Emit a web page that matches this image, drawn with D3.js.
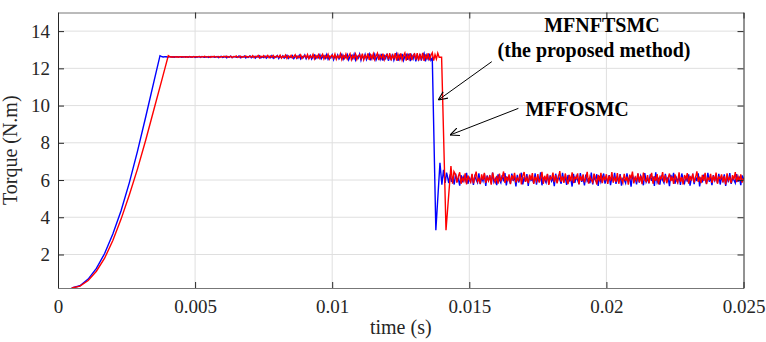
<!DOCTYPE html>
<html>
<head>
<meta charset="utf-8">
<script src="https://cdn.jsdelivr.net/npm/d3@7"></script>
<style>
  body { margin: 0; background: #fff; }
  text { font-family: "Liberation Serif", "Times New Roman", serif; }
</style>
</head>
<body>
<div id="chart"></div>
<script>
// tick values
const xTicks = [0, 0.005, 0.01, 0.015, 0.02, 0.025];
const xTickLabels = ["0", "0.005", "0.01", "0.015", "0.02", "0.025"];
const yTicks = [2, 4, 6, 8, 10, 12, 14];

// ripple segments are sampled every 0.05 ms
const sampleStep = 0.00005;

// MFNFTSMC (blue) - start-up ramp [t, torque]
const blueRise = [
  [0.0005, 0.2], [0.0008, 0.32], [0.0011, 0.68], [0.0014, 1.25], [0.0017, 2.05],
  [0.0020, 3.1], [0.0023, 4.35], [0.0026, 5.85], [0.0029, 7.55], [0.0032, 9.4],
  [0.0035, 11.3], [0.00372, 12.68]
];
// plateau ripple from 3.8 ms
const blueLoadStart = 0.0038;
const blueLoad = [
  12.62,12.61,12.63,12.62,12.60,12.62,12.63,12.61,12.62,12.60,12.63,12.62,12.61,12.63,12.60,12.62,12.61,12.63,12.62,12.60,
  12.63,12.60,12.62,12.64,12.59,12.62,12.61,12.63,12.59,12.64,12.61,12.60,12.63,12.62,12.58,12.63,12.61,12.64,12.60,12.62,
  12.64,12.58,12.62,12.65,12.59,12.61,12.64,12.57,12.63,12.60,12.65,12.58,12.62,12.64,12.59,12.61,12.66,12.57,12.63,12.60,
  12.66,12.56,12.63,12.59,12.67,12.57,12.62,12.65,12.55,12.64,12.60,12.67,12.56,12.63,12.58,12.66,12.55,12.62,12.65,12.57,
  12.68,12.54,12.63,12.59,12.69,12.53,12.65,12.57,12.67,12.55,12.61,12.70,12.54,12.64,12.58,12.68,12.52,12.63,12.66,12.55,
  12.70,12.51,12.64,12.58,12.72,12.52,12.66,12.56,12.69,12.50,12.63,12.71,12.53,12.67,12.57,12.73,12.51,12.62,12.68,12.54,
  12.74,12.49,12.65,12.56,12.73,12.47,12.68,12.55,12.72,12.50,12.61,12.75,12.48,12.66,12.57,12.74,12.46,12.64,12.70,12.52,
  12.76,12.45,12.67,12.55,12.77,12.44,12.69,12.52,12.75,12.47,12.63,12.78,12.43,12.68,12.54,12.76,12.45,12.62,12.72,12.49,
  12.78,12.42,12.68,12.53,12.79,12.41,12.71,12.50,12.77,12.44,12.65,12.80,12.40,12.69,12.52,12.78,12.43,12.64,12.74,12.46,
  12.79,12.39,12.70,12.51,12.80,12.37,12.72,12.48,12.78,12.42,12.66,12.81,12.38,12.70,12.50,12.79,12.44
];
// load step transient [t, torque]
const blueStep = [
  [0.01365, 12.55], [0.01378, 3.3], [0.01393, 6.93], [0.01400, 5.75], [0.01406, 6.55],
  [0.01412, 5.85], [0.01417, 6.4]
];
// steady ripple from 14.2 ms
const blueSteadyStart = 0.0142;
const blueSteady = [
  6.22,5.84,6.31,5.90,6.14,5.76,6.35,5.95,6.08,5.70,6.27,5.88,6.18,5.97,6.38,5.80,6.11,5.92,6.29,5.74,
  6.20,6.02,5.86,6.36,5.78,6.13,5.94,6.33,5.68,6.24,5.99,6.16,5.82,6.40,5.89,6.07,5.73,6.30,6.00,5.85,
  6.26,5.93,6.37,5.71,6.12,6.04,5.81,6.34,5.96,6.19,5.66,6.28,5.87,6.09,6.39,5.77,6.15,5.91,6.32,5.69,
  6.23,5.98,6.06,5.83,6.36,5.75,6.17,5.90,6.41,5.72,6.10,6.01,5.86,6.30,5.79,6.25,5.95,6.13,5.67,6.34,
  5.88,6.21,6.03,5.80,6.38,5.92,6.16,5.74,6.27,5.97,6.09,5.65,6.33,5.85,6.19,6.00,5.78,6.37,5.90,6.12,
  5.71,6.29,5.94,6.05,5.83,6.40,5.76,6.18,5.99,6.31,5.68,6.22,5.89,6.11,6.35,5.81,6.07,5.93,6.26,5.73,
  6.14,5.96,6.39,5.79,6.20,5.87,6.32,5.70,6.08,6.02,5.84,6.36,5.91,6.17,5.64,6.28,5.98,6.13,5.77,6.34,
  5.86,6.23,6.04,5.72,6.37,5.90,6.10,5.82,6.30,5.95,6.19,5.69,6.41,5.88,6.06,5.75,6.25,6.00,5.85,6.33,
  5.93,6.15,5.67,6.28,5.97,6.38,5.80,6.12,5.89,6.24,5.74,6.35,6.01,5.83,6.20,5.92,6.31,5.70,6.09,6.27,
  5.78,6.18,5.95,6.36,5.66,6.14,5.87,6.29,6.03,5.81,6.39,5.91,6.11,5.73,6.26,5.98,6.21,5.85,6.33,5.76,
  6.16,5.94,6.30,5.69,6.22,5.88,6.37,5.79,6.07,6.00,5.84,6.32,5.90,6.19,5.72,6.25,6.05
];

// MFFOSMC (red)
const redRise = [
  [0.0005, 0.2], [0.0008, 0.3], [0.0011, 0.6], [0.0014, 1.1], [0.0017, 1.8],
  [0.0020, 2.75], [0.0023, 3.9], [0.0026, 5.2], [0.0029, 6.6], [0.0032, 8.15],
  [0.0035, 9.8], [0.0038, 11.45], [0.004023, 12.68]
];
const redLoadStart = 0.0041;
const redLoad = [
  12.61,12.62,12.60,12.63,12.61,12.62,12.60,12.63,12.62,12.61,12.63,12.60,12.62,12.61,12.63,12.62,12.60,12.62,12.63,12.61,
  12.62,12.64,12.60,12.63,12.61,12.65,12.60,12.62,12.64,12.59,12.63,12.61,12.65,12.60,12.62,12.64,12.59,12.63,12.62,12.65,
  12.60,12.66,12.59,12.63,12.65,12.58,12.64,12.61,12.67,12.59,12.62,12.66,12.58,12.64,12.61,12.67,12.59,12.63,12.65,12.60,
  12.68,12.57,12.64,12.61,12.69,12.56,12.65,12.60,12.68,12.58,12.63,12.70,12.57,12.66,12.60,12.69,12.56,12.64,12.67,12.59,
  12.71,12.55,12.65,12.60,12.72,12.54,12.67,12.58,12.70,12.56,12.63,12.73,12.54,12.66,12.59,12.72,12.53,12.64,12.69,12.57,
  12.74,12.52,12.66,12.58,12.75,12.51,12.69,12.56,12.73,12.53,12.64,12.76,12.51,12.68,12.57,12.75,12.50,12.65,12.71,12.55,
  12.76,12.49,12.67,12.57,12.78,12.48,12.70,12.54,12.76,12.50,12.65,12.79,12.47,12.69,12.55,12.77,12.48,12.66,12.73,12.52,
  12.79,12.46,12.69,12.55,12.80,12.45,12.72,12.52,12.78,12.47,12.66,12.81,12.44,12.70,12.53,12.79,12.46,12.67,12.75,12.49,
  12.81,12.43,12.70,12.54,12.82,12.42,12.74,12.50,12.80,12.45,12.68,12.83,12.42,12.72,12.51,12.81,12.44,12.69,12.77,12.47,
  12.82,12.41,12.72,12.52,12.83,12.40,12.75,12.49,12.81,12.43,12.69,12.84,12.41,12.73,12.50,12.82,12.60
];
const redStep = [
  [0.01399, 12.6], [0.01415, 3.3], [0.01433, 6.75], [0.01439, 5.8], [0.01444, 6.45]
];
const redSteadyStart = 0.0145;
const redSteady = [
  6.28,5.86,6.20,6.42,5.80,6.12,5.94,6.36,5.77,6.24,6.02,5.89,6.33,5.82,6.17,6.45,5.92,6.08,5.79,6.30,
  6.01,6.38,5.85,6.15,5.96,6.27,5.75,6.40,6.06,5.88,6.22,5.81,6.34,5.98,6.13,6.46,5.84,6.19,5.93,6.31,
  5.78,6.25,6.04,6.39,5.87,6.10,5.97,6.35,5.76,6.21,6.43,5.90,6.14,5.83,6.29,6.00,6.37,5.79,6.18,5.95,
  6.32,5.86,6.09,6.44,5.80,6.23,5.99,6.33,5.74,6.16,6.05,6.40,5.89,6.26,5.82,6.12,6.48,5.91,6.20,5.85,
  6.35,6.03,5.78,6.28,5.94,6.41,5.84,6.15,6.07,6.36,5.77,6.22,5.96,6.30,5.88,6.11,6.44,5.81,6.19,6.00,
  5.87,6.34,6.08,5.76,6.27,5.93,6.39,5.83,6.16,6.02,6.31,5.79,6.24,5.97,6.42,5.86,6.13,5.90,6.37,5.80,
  6.21,6.04,5.85,6.33,5.95,6.18,5.75,6.29,6.09,6.45,5.82,6.14,5.98,6.36,5.88,6.23,5.78,6.40,6.01,5.92,
  6.26,5.84,6.12,6.38,5.80,6.20,5.96,6.32,5.77,6.17,6.06,6.43,5.89,6.25,5.83,6.10,6.35,5.94,6.19,5.79,
  6.30,6.00,5.86,6.41,5.91,6.15,5.76,6.27,6.05,6.37,5.81,6.22,5.97,6.34,5.87,6.13,6.47,5.90,6.18,5.84,
  6.28,5.95,6.39,5.78,6.11,6.03,6.33,5.85,6.24,5.93,6.40,5.80,6.16,6.07,6.30,5.88,6.21,5.76,6.36,5.98,
  6.14,5.83,6.26,6.02,6.42,5.89,6.19,5.94,6.31,5.86,6.10
];

// annotations [t, torque]
const labelTop = { text: "MFNFTSMC", at: [0.01984, 13.95] };
const labelTop2 = { text: "(the proposed method)", at: [0.01955, 12.62] };
const labelMid = { text: "MFFOSMC", at: [0.01893, 9.45] };
const arrows = [
  { from: [0.01582, 12.36], to: [0.01387, 10.3] },
  { from: [0.01679, 9.85], to: [0.0143, 8.42] }
];

const margin = { top: 12.5, right: 22.5, bottom: 54, left: 58 },
      width = 766 - margin.left - margin.right,
      height = 342 - margin.top - margin.bottom;

const svg = d3.select("#chart")
  .append("svg")
  .attr("width", 766)
  .attr("height", 342)
  .append("g")
  .attr("transform", `translate(${margin.left},${margin.top})`);

const x = d3.scaleLinear().domain([0, 0.025]).range([0, width]);
const y = d3.scaleLinear().domain([0.2, 15]).range([height, 0]);

// grid
svg.append("g")
  .selectAll("line")
  .data(xTicks.slice(1, -1))
  .enter().append("line")
  .attr("x1", d => x(d)).attr("x2", d => x(d))
  .attr("y1", 0).attr("y2", height)
  .attr("stroke", "#dfdfdf");

svg.append("g")
  .selectAll("line")
  .data(yTicks)
  .enter().append("line")
  .attr("x1", 0).attr("x2", width)
  .attr("y1", d => y(d)).attr("y2", d => y(d))
  .attr("stroke", "#dfdfdf");

function buildSeries(rise, loadStart, load, step, steadyStart, steady) {
  const pts = rise.slice();
  load.forEach((v, i) => pts.push([loadStart + i * sampleStep, v]));
  step.forEach(p => pts.push(p));
  steady.forEach((v, i) => pts.push([steadyStart + i * sampleStep, v]));
  return pts;
}

const blue = buildSeries(blueRise, blueLoadStart, blueLoad, blueStep, blueSteadyStart, blueSteady);
const red = buildSeries(redRise, redLoadStart, redLoad, redStep, redSteadyStart, redSteady);

const line = d3.line()
  .x(d => x(d[0]))
  .y(d => y(d[1]));

svg.append("path")
  .datum(blue)
  .attr("fill", "none")
  .attr("stroke", "#0000ff")
  .attr("stroke-width", 1.4)
  .attr("d", line);

svg.append("path")
  .datum(red)
  .attr("fill", "none")
  .attr("stroke", "#ff0000")
  .attr("stroke-width", 1.4)
  .attr("d", line);

// axes (inward ticks, box)
const xAxis = svg.append("g")
  .attr("transform", `translate(0,${height})`)
  .call(d3.axisBottom(x).tickValues(xTicks).tickFormat((d, i) => xTickLabels[i])
    .tickSize(-6).tickSizeOuter(0).tickPadding(12));

const yAxis = svg.append("g")
  .call(d3.axisLeft(y).tickValues(yTicks).tickSize(-6).tickSizeOuter(0).tickPadding(8));

const topAxis = svg.append("g")
  .call(d3.axisTop(x).tickValues(xTicks).tickFormat("").tickSize(-6).tickSizeOuter(0));

const rightAxis = svg.append("g")
  .attr("transform", `translate(${width},0)`)
  .call(d3.axisRight(y).tickValues(yTicks).tickFormat("").tickSize(-6).tickSizeOuter(0));

[xAxis, yAxis, topAxis, rightAxis].forEach(a => {
  a.select(".domain").attr("stroke", "#262626");
  a.selectAll(".tick line").attr("stroke", "#262626");
  a.selectAll("text")
    .style("font-family", "'Liberation Serif', serif")
    .style("font-size", "19px")
    .attr("fill", "#262626");
});
xAxis.select(".domain").attr("stroke", "#777");
topAxis.select(".domain").attr("stroke", "#777");

svg.append("text")
  .attr("x", width / 2)
  .attr("y", height + 46)
  .attr("text-anchor", "middle")
  .style("font-size", "20px")
  .attr("fill", "#262626")
  .text("time (s)");

svg.append("text")
  .attr("transform", "rotate(-90)")
  .attr("x", -height / 2)
  .attr("y", -41)
  .attr("text-anchor", "middle")
  .style("font-size", "20px")
  .attr("fill", "#262626")
  .text("Torque (N.m)");

// annotations
svg.append("defs").append("marker")
  .attr("id", "head")
  .attr("viewBox", "0 -5 10 10")
  .attr("refX", 10)
  .attr("refY", 0)
  .attr("markerWidth", 9)
  .attr("markerHeight", 9)
  .attr("markerUnits", "userSpaceOnUse")
  .attr("orient", "auto")
  .append("path")
  .attr("d", "M0,-4.5L10,0L0,4.5")
  .attr("fill", "none")
  .attr("stroke", "#000")
  .attr("stroke-width", 1.3);

arrows.forEach(a => {
  svg.append("line")
    .attr("x1", x(a.from[0])).attr("y1", y(a.from[1]))
    .attr("x2", x(a.to[0])).attr("y2", y(a.to[1]))
    .attr("stroke", "#000")
    .attr("stroke-width", 1)
    .attr("marker-end", "url(#head)");
});

[labelTop, labelTop2, labelMid].forEach(l => {
  svg.append("text")
    .attr("x", x(l.at[0]))
    .attr("y", y(l.at[1]))
    .attr("text-anchor", "middle")
    .style("font-size", "20px")
    .style("font-weight", "bold")
    .attr("fill", "#000")
    .text(l.text);
});
</script>
</body>
</html>
